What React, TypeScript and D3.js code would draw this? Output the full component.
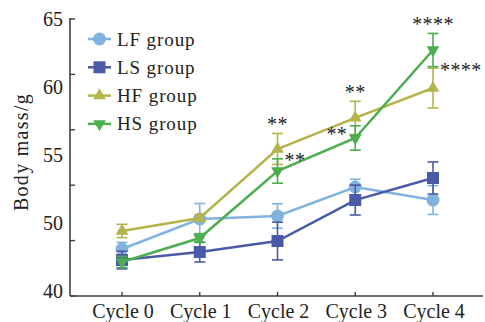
import React from 'react';
import * as d3 from 'd3';

const cycles = ['Cycle 0', 'Cycle 1', 'Cycle 2', 'Cycle 3', 'Cycle 4'];
const groups = ['LF group', 'LS group', 'HF group', 'HS group'];

const lfMean = [44.24, 46.95, 47.22, 49.84, 48.66];
const lfErr = [0.6, 1.4, 1.1, 0.7, 1.3];
const lsMean = [43.25, 43.97, 44.96, 48.66, 50.65];
const lsErr = [0.8, 0.9, 1.7, 1.35, 1.45];
const hfMean = [45.87, 47.04, 53.27, 56.07, 58.77];
const hfErr = [0.6, 0.3, 1.4, 1.5, 1.8];
const hsMean = [43.07, 45.23, 51.28, 54.26, 62.2];
const hsErr = [0.5, 0.4, 1.1, 1.1, 1.5];

const yTickValues = [40, 45, 50, 55, 60, 65];
const yTickLabels = ['65', '60', '55', '50', '40'];

const annotations = [
  { cycle: 'Cycle 2', group: 'HF group', text: '**', side: 'above' },
  { cycle: 'Cycle 2', group: 'HS group', text: '**', side: 'right' },
  { cycle: 'Cycle 3', group: 'HF group', text: '**', side: 'above' },
  { cycle: 'Cycle 3', group: 'HS group', text: '**', side: 'left' },
  { cycle: 'Cycle 4', group: 'HS group', text: '****', side: 'above' },
  { cycle: 'Cycle 4', group: 'HF group', text: '****', side: 'right' },
];

const FONT = '"Liberation Serif", "DejaVu Serif", serif';
const AXIS = '#3f3f3f';

const seriesStyle: Record<string, { color: string; shape: string }> = {
  'LF group': { color: '#82b3e0', shape: 'circle' },
  'LS group': { color: '#4a5aa8', shape: 'square' },
  'HF group': { color: '#b5b34c', shape: 'triUp' },
  'HS group': { color: '#4cae4f', shape: 'triDown' },
};

const seriesData: Record<string, { mean: number[]; err: number[] }> = {
  'LF group': { mean: lfMean, err: lfErr },
  'LS group': { mean: lsMean, err: lsErr },
  'HF group': { mean: hfMean, err: hfErr },
  'HS group': { mean: hsMean, err: hsErr },
};

function Marker({ shape, x, y, color }: { shape: string; x: number; y: number; color: string }) {
  if (shape === 'circle') return <circle cx={x} cy={y} r={6.5} fill={color} />;
  if (shape === 'square') return <rect x={x - 6} y={y - 6} width={12} height={12} fill={color} />;
  const p = d3.symbol().type(d3.symbolTriangle).size(70)()!;
  const rot = shape === 'triDown' ? 180 : 0;
  return <path d={p} transform={`translate(${x},${y}) rotate(${rot})`} fill={color} />;
}

export default function App() {
  const W = 485;
  const H = 322;
  const left = 70;
  const bottom = 296;
  const right = 483;

  const x = d3.scalePoint<string>().domain(cycles).range([122, 433]);
  const y = d3.scaleLinear().domain([40, 65]).range([bottom, 19]);
  const yLab = d3.scalePoint<string>().domain(yTickLabels).range([18.5, 291]);

  const line = d3
    .line<number>()
    .x((_, i) => x(cycles[i])!)
    .y((d) => y(d));

  return (
    <svg width={W} height={H} style={{ position: 'absolute', left: 0, top: 0, background: '#fff' }}>
      {/* axes */}
      <line x1={left} y1={18} x2={left} y2={bottom} stroke={AXIS} strokeWidth={1.6} />
      <line x1={left} y1={bottom} x2={right} y2={bottom} stroke={AXIS} strokeWidth={1.6} />
      {yTickValues.map((v) => (
        <line key={v} x1={left} x2={left + 5} y1={y(v)} y2={y(v)} stroke={AXIS} strokeWidth={1.4} />
      ))}
      {yTickLabels.map((t) => (
        <text key={t} x={63} y={yLab(t)! + 7} textAnchor="end" fontFamily={FONT} fontSize={20} fill="#222">
          {t}
        </text>
      ))}
      {cycles.map((c) => (
        <g key={c}>
          <line x1={x(c)} x2={x(c)} y1={bottom} y2={bottom - 4} stroke={AXIS} strokeWidth={1.4} />
          <text x={x(c)! + 1} y={318} textAnchor="middle" fontFamily={FONT} fontSize={20} fill="#222">
            {c}
          </text>
        </g>
      ))}
      <text
        transform="translate(28,152) rotate(-90)"
        textAnchor="middle"
        fontFamily={FONT}
        fontSize={20}
        letterSpacing={1.3}
        fill="#222"
      >
        Body mass/g
      </text>

      {/* series */}
      {groups.map((g) => {
        const { color, shape } = seriesStyle[g];
        const { mean, err } = seriesData[g];
        return (
          <g key={g}>
            <path d={line(mean)!} fill="none" stroke={color} strokeWidth={2.5} />
            {mean.map((m, i) => {
              const cx = x(cycles[i])!;
              const y1 = y(m + err[i]);
              const y2 = y(m - err[i]);
              return (
                <g key={i} stroke={color} strokeWidth={1.6}>
                  <line x1={cx} x2={cx} y1={y1} y2={y2} />
                  <line x1={cx - 5.5} x2={cx + 5.5} y1={y1} y2={y1} />
                  <line x1={cx - 5.5} x2={cx + 5.5} y1={y2} y2={y2} />
                </g>
              );
            })}
            {mean.map((m, i) => (
              <Marker key={'m' + i} shape={shape} x={x(cycles[i])!} y={y(m)} color={color} />
            ))}
          </g>
        );
      })}

      {/* significance */}
      {annotations.map((a, k) => {
        const i = cycles.indexOf(a.cycle);
        const { mean, err } = seriesData[a.group];
        const cx = x(a.cycle)!;
        const top = y(mean[i] + err[i]);
        let tx = cx;
        let cy = top - 12;
        let anchor = 'middle';
        if (a.side === 'right') {
          tx = cx + 7;
          cy = top - 1;
          anchor = 'start';
        } else if (a.side === 'left') {
          tx = cx - 8;
          cy = (y(mean[i]) + top) / 2;
          anchor = 'end';
        }
        return (
          <text
            key={k}
            x={tx}
            y={cy + 9.5}
            textAnchor={anchor}
            fontFamily={FONT}
            fontSize={20}
            letterSpacing={0.4}
            fill="#222"
          >
            {a.text}
          </text>
        );
      })}

      {/* legend */}
      {groups.map((g, i) => {
        const { color, shape } = seriesStyle[g];
        const ly = 39 + i * 28.3;
        return (
          <g key={g}>
            <line x1={88} x2={111} y1={ly} y2={ly} stroke={color} strokeWidth={2.5} />
            <Marker shape={shape} x={99.5} y={ly} color={color} />
            <text x={117} y={ly + 6.5} fontFamily={FONT} fontSize={19} letterSpacing={0.9} fill="#222">
              {g}
            </text>
          </g>
        );
      })}
    </svg>
  );
}
